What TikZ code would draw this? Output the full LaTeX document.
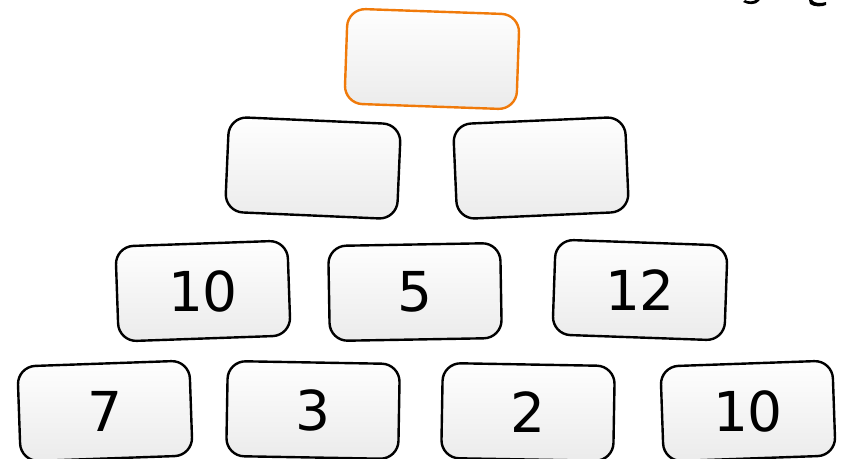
\documentclass[tikz,border=0pt]{standalone}
\usepackage{fontspec}
\newfontfamily\digitfont{DejaVu Sans}
\definecolor{boxorange}{HTML}{F07A0A}
\definecolor{boxgray}{HTML}{EBEBEB}
\tikzset{
  brick/.style={draw=black, line width=2.4pt, rounded corners=18pt,
    minimum width=172pt, minimum height=95pt, inner sep=0pt,
    top color=white!97!boxgray, bottom color=boxgray},
  topbrick/.style={brick, draw=boxorange},
  numlabel/.style={font=\digitfont\fontsize{55}{60}\selectfont, inner sep=0pt}
}
\begin{document}
\begin{tikzpicture}[x=1pt,y=-1pt]
\useasboundingbox (0,0) rectangle (841,458);
% top
\node[topbrick, rotate=-2] (t) at (432,59) {};
% row 2
\node[brick, rotate=-2.5] (a1) at (313,168) {};
\node[brick, rotate=2.5] (a2) at (541,168) {};
% row 3
\node[brick, rotate=2] (b1) at (203,291) {};
\node[brick, rotate=1] (b2) at (415,292) {};
\node[brick, rotate=-2] (b3) at (640,290) {};
% row 4
\node[brick, rotate=2] (c1) at (105,411) {};
\node[brick, rotate=-1] (c2) at (313,410) {};
\node[brick, rotate=-1] (c3) at (528,412) {};
\node[brick, rotate=2] (c4) at (748,411) {};
% labels
\node[numlabel] (lb1) at (b1.center) {10};
\node[numlabel] (lb2) at (b2.center) {5};
\node[numlabel] (lb3) at (b3.center) {12};
\node[numlabel] (lc1) at (c1.center) {7};
\node[numlabel] (lc2) at (c2.center) {3};
\node[numlabel] (lc3) at (c3.center) {2};
\node[numlabel] (lc4) at (c4.center) {10};
% clipped glyph fragments at the top right
\fill[black] (743,2) .. controls (748,5) and (756,5) .. (759,1) -- (760,-1) -- (757,-1) .. controls (754,2) and (748,2) .. (745,0) -- cycle;
\fill[black] (809,0) -- (810,4) .. controls (814,7) and (822,7) .. (826,5) -- (826,2) .. controls (820,4) and (814,3) .. (812,0) -- cycle;
\end{tikzpicture}
\end{document}
